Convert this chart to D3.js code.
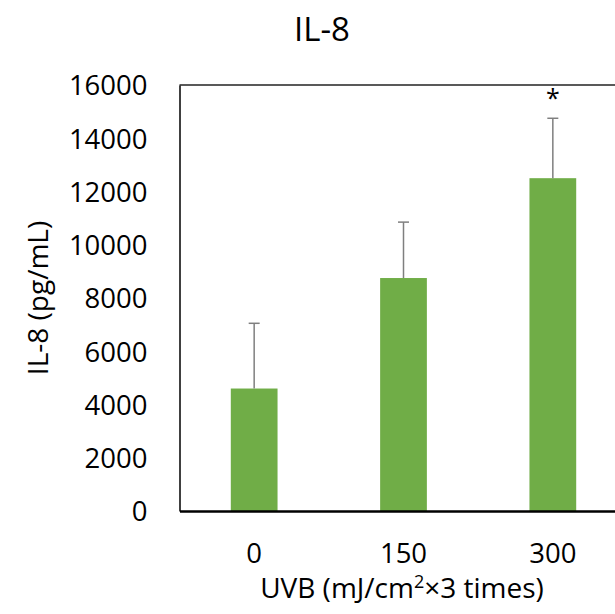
<!DOCTYPE html>
<html>
<head>
<meta charset="utf-8">
<script src="https://cdn.jsdelivr.net/npm/d3@7"></script>
<style>
  html, body { margin: 0; padding: 0; background: #fff; }
  svg text { font-family: "Open Sans", sans-serif; fill: #000; }
</style>
</head>
<body>
<svg id="chart" width="615" height="614"></svg>
<script>
'use strict';

// values
var doses = ['0', '150', '300'];
var il8Mean = [4600, 8750, 12500];
var il8Err = [2450, 2100, 2250];
var yTicks = [0, 2000, 4000, 6000, 8000, 10000, 12000, 14000, 16000];
var marked = ['300'];   // significant vs control

var svg = d3.select('#chart');

// plot area runs off the right edge of the picture, like the original crop
var plot = { left: 179.5, right: 627.5, top: 85, bottom: 511 };

var x = d3.scaleBand()
    .domain(doses)
    .range([plot.left, plot.right])
    .paddingInner(0.687)
    .paddingOuter(0.3435);

var y = d3.scaleLinear()
    .domain([0, 16000])
    .range([plot.bottom, plot.top]);

var rows = doses.map(function (d, i) {
    return { dose: d, mean: il8Mean[i], err: il8Err[i] };
});

// bars
svg.append('g').attr('class', 'bars')
  .selectAll('rect')
    .data(rows)
  .enter().append('rect')
    .attr('x', function (d) { return x(d.dose); })
    .attr('width', x.bandwidth())
    .attr('y', function (d) { return y(d.mean); })
    .attr('height', function (d) { return y(0) - y(d.mean); })
    .attr('fill', '#70ad47');

// upper error bars only
var eb = svg.append('g').attr('class', 'errbars')
    .attr('stroke', '#7f7f7f')
    .attr('stroke-width', 1.5);

eb.selectAll('.stem')
    .data(rows)
  .enter().append('line')
    .attr('class', 'stem')
    .attr('x1', function (d) { return x(d.dose) + x.bandwidth() / 2; })
    .attr('x2', function (d) { return x(d.dose) + x.bandwidth() / 2; })
    .attr('y1', function (d) { return y(d.mean); })
    .attr('y2', function (d) { return y(d.mean + d.err); });

eb.selectAll('.cap')
    .data(rows)
  .enter().append('line')
    .attr('class', 'cap')
    .attr('x1', function (d) { return x(d.dose) + x.bandwidth() / 2 - 5.5; })
    .attr('x2', function (d) { return x(d.dose) + x.bandwidth() / 2 + 5.5; })
    .attr('y1', function (d) { return y(d.mean + d.err); })
    .attr('y2', function (d) { return y(d.mean + d.err); });

// asterisk above significant bars
svg.append('g').selectAll('text')
    .data(rows.filter(function (d) { return marked.indexOf(d.dose) >= 0; }))
  .enter().append('text')
    .attr('x', function (d) { return x(d.dose) + x.bandwidth() / 2; })
    .attr('y', 107)
    .attr('text-anchor', 'middle')
    .attr('font-size', 25)
    .text('*');

// plot frame: top and left edges
svg.append('line')
    .attr('x1', plot.left).attr('x2', plot.right)
    .attr('y1', plot.top).attr('y2', plot.top)
    .attr('stroke', '#222').attr('stroke-width', 1.5);

// y axis
var yAxis = svg.append('g')
    .attr('transform', 'translate(' + plot.left + ',0)')
    .call(d3.axisLeft(y).tickValues(yTicks).tickSize(0).tickPadding(32).tickFormat(d3.format('d')));
yAxis.select('.domain').attr('stroke', '#000').attr('stroke-width', 1.5);
yAxis.selectAll('text')
    .attr('font-size', 27.5)
    .attr('font-family', '"Open Sans", sans-serif')
    .attr('dy', '0.36em');

// x axis
var xAxis = svg.append('g')
    .attr('transform', 'translate(0,' + plot.bottom + ')')
    .call(d3.axisBottom(x).tickSize(0).tickPadding(0));
xAxis.select('.domain').attr('stroke', '#000').attr('stroke-width', 2.5);
xAxis.selectAll('text')
    .attr('font-size', 27.5)
    .attr('font-family', '"Open Sans", sans-serif')
    .attr('dy', null)
    .attr('y', 52);

// titles
svg.append('text')
    .attr('x', 322)
    .attr('y', 41)
    .attr('text-anchor', 'middle')
    .attr('font-size', 33)
    .text('IL-8');

svg.append('text')
    .attr('transform', 'translate(48,298) rotate(-90)')
    .attr('text-anchor', 'middle')
    .attr('font-size', 28)
    .text('IL-8 (pg/mL)');

var xt = svg.append('text')
    .attr('x', 402)
    .attr('y', 598)
    .attr('text-anchor', 'middle')
    .attr('font-size', 28);
xt.append('tspan').text('UVB (mJ/cm');
xt.append('tspan').attr('font-size', 18).attr('dy', -10).text('2');
xt.append('tspan').attr('dy', 10).text('\u00d73 times)');
</script>
</body>
</html>
